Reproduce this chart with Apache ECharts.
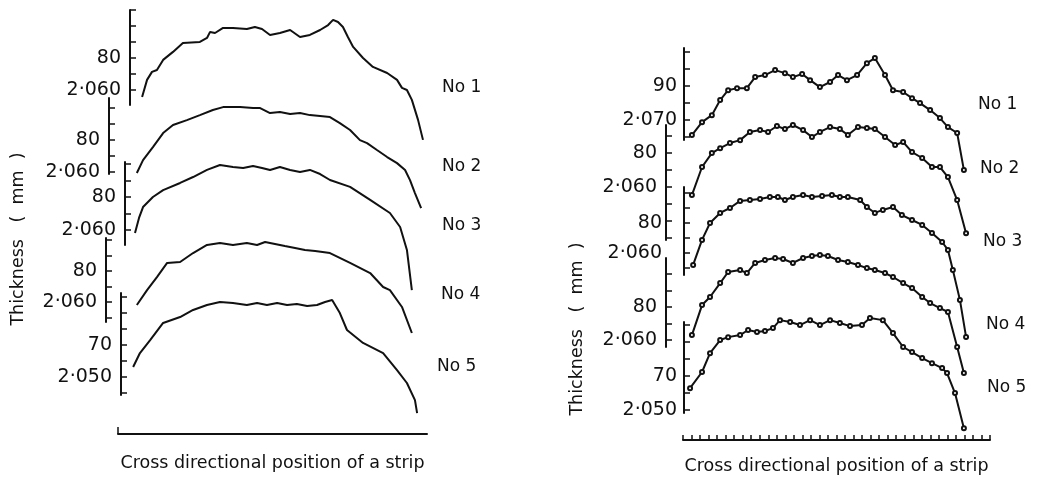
<!DOCTYPE html>
<html>
<head>
<meta charset="utf-8">
<title>Thickness profiles across a strip</title>
<script src="https://cdn.jsdelivr.net/npm/echarts@6/dist/echarts.min.js"></script>
<style>
  html, body { margin: 0; padding: 0; background: #fff; }
  #chart { width: 1037px; height: 479px; }
</style>
</head>
<body>
<div id="chart"></div>
<script>
// [position across strip (% of width), thickness (mm)]
// left panel: measured traces
const leftNo1 = [[7.8, 2.0556], [9.4, 2.0663], [11.0, 2.0713], [12.6, 2.0725], [14.6, 2.0788], [17.8, 2.0838],
  [21.0, 2.0894], [26.5, 2.0900], [28.8, 2.0925], [29.8, 2.0963], [31.4, 2.0956], [34.0, 2.0988], [37.2, 2.0988],
  [41.7, 2.0981], [44.3, 2.0994], [46.6, 2.0981], [49.2, 2.0944], [52.4, 2.0956], [55.7, 2.0975], [58.9, 2.0931],
  [62.1, 2.0944], [65.4, 2.0975], [68.0, 2.1006], [69.6, 2.1038], [71.2, 2.1025], [72.8, 2.0994], [74.4, 2.0931],
  [76.1, 2.0869], [79.3, 2.0800], [82.5, 2.0744], [87.1, 2.0706], [90.3, 2.0663], [91.9, 2.0613], [93.5, 2.0600],
  [95.1, 2.0538], [97.1, 2.0413], [98.7, 2.0288]];
const leftNo2 = [[6.1, 2.0594], [8.1, 2.0675], [11.3, 2.0756], [14.6, 2.0844], [17.8, 2.0894], [22.3, 2.0925],
  [26.5, 2.0956], [30.7, 2.0988], [34.0, 2.1006], [39.5, 2.1006], [43.7, 2.1000], [46.0, 2.1000], [49.2, 2.0969],
  [52.4, 2.0975], [55.7, 2.0963], [58.9, 2.0969], [62.1, 2.0956], [65.4, 2.0950], [68.6, 2.0944], [71.8, 2.0906],
  [75.1, 2.0863], [78.3, 2.0800], [80.6, 2.0781], [83.8, 2.0738], [87.1, 2.0694], [90.3, 2.0656], [92.9, 2.0613],
  [94.5, 2.0550], [96.1, 2.0469], [98.1, 2.0375]];
const leftNo3 = [[5.5, 2.0582], [6.8, 2.0673], [8.1, 2.0739], [11.3, 2.0800], [14.6, 2.0842], [20.1, 2.0885],
  [24.3, 2.0921], [28.8, 2.0964], [33.0, 2.0994], [37.2, 2.0982], [40.5, 2.0976], [43.7, 2.0988], [46.6, 2.0976],
  [49.2, 2.0964], [52.4, 2.0982], [55.7, 2.0964], [58.9, 2.0952], [62.1, 2.0964], [65.4, 2.0939], [68.6, 2.0903],
  [75.1, 2.0861], [81.6, 2.0782], [88.0, 2.0703], [91.3, 2.0618], [93.5, 2.0479], [95.1, 2.0236]];
const leftNo4 = [[6.1, 2.0581], [9.4, 2.0677], [12.6, 2.0761], [15.9, 2.0852], [20.1, 2.0858], [24.3, 2.0916],
  [28.8, 2.0968], [33.0, 2.0981], [37.2, 2.0968], [41.7, 2.0981], [45.0, 2.0968], [47.6, 2.0987], [50.8, 2.0974],
  [54.0, 2.0961], [57.3, 2.0948], [60.5, 2.0935], [63.8, 2.0929], [68.6, 2.0916], [75.1, 2.0852], [81.6, 2.0787],
  [85.8, 2.0697], [88.0, 2.0677], [91.9, 2.0568], [95.1, 2.0400]];
const leftNo5 = [[4.9, 2.0563], [7.1, 2.0650], [10.4, 2.0731], [14.6, 2.0838], [20.1, 2.0875], [24.3, 2.0919],
  [28.8, 2.0950], [33.0, 2.0969], [37.2, 2.0963], [41.7, 2.0950], [45.0, 2.0963], [48.2, 2.0950], [51.5, 2.0963],
  [54.7, 2.0950], [57.9, 2.0956], [61.2, 2.0944], [64.4, 2.0950], [67.0, 2.0969], [69.3, 2.0981], [71.8, 2.0900],
  [74.1, 2.0794], [79.3, 2.0713], [85.8, 2.0650], [90.3, 2.0544], [93.5, 2.0463], [96.1, 2.0356], [96.8, 2.0275]];

// right panel: point measurements
const rightNo1 = [[2.9, 2.0612], [6.2, 2.0688], [9.4, 2.0729], [12.1, 2.0818], [14.7, 2.0876], [17.6, 2.0888],
  [20.8, 2.0888], [23.5, 2.0953], [26.7, 2.0965], [30.0, 2.0994], [33.2, 2.0976], [35.8, 2.0953], [38.8, 2.0971],
  [41.4, 2.0935], [44.6, 2.0894], [47.9, 2.0924], [50.5, 2.0965], [53.4, 2.0935], [56.7, 2.0965], [59.9, 2.1035],
  [62.5, 2.1065], [65.8, 2.0965], [68.4, 2.0876], [71.7, 2.0865], [74.6, 2.0829], [77.2, 2.0800], [80.5, 2.0759],
  [83.7, 2.0712], [86.3, 2.0659], [89.3, 2.0624], [91.5, 2.0406]];
const rightNo2 = [[2.9, 2.0553], [6.2, 2.0718], [9.4, 2.0800], [12.1, 2.0829], [15.3, 2.0859], [18.6, 2.0876],
  [21.8, 2.0924], [25.1, 2.0935], [27.7, 2.0924], [30.6, 2.0959], [33.2, 2.0941], [35.8, 2.0965], [39.1, 2.0935],
  [42.0, 2.0894], [44.6, 2.0924], [47.9, 2.0953], [51.1, 2.0941], [53.7, 2.0906], [57.0, 2.0953], [59.9, 2.0947],
  [62.5, 2.0941], [65.8, 2.0894], [69.1, 2.0847], [71.7, 2.0865], [74.6, 2.0806], [77.9, 2.0771], [81.1, 2.0718],
  [83.7, 2.0718], [86.3, 2.0659], [89.3, 2.0524], [92.2, 2.0329]];
const rightNo3 = [[3.3, 2.0520], [6.2, 2.0687], [8.8, 2.0800], [12.1, 2.0867], [15.3, 2.0900], [18.6, 2.0947],
  [21.8, 2.0953], [25.1, 2.0960], [28.3, 2.0973], [30.9, 2.0973], [33.2, 2.0953], [35.8, 2.0973], [39.1, 2.0987],
  [42.0, 2.0973], [45.3, 2.0980], [48.5, 2.0987], [51.1, 2.0973], [53.7, 2.0973], [57.7, 2.0953], [59.9, 2.0907],
  [62.5, 2.0867], [65.1, 2.0887], [68.4, 2.0907], [71.3, 2.0853], [74.6, 2.0820], [77.9, 2.0787], [81.1, 2.0733],
  [84.4, 2.0673], [86.3, 2.0620], [87.9, 2.0487], [90.2, 2.0287], [92.2, 2.0040]];
const rightNo4 = [[2.9, 2.0630], [6.2, 2.0812], [8.8, 2.0861], [12.1, 2.0945], [14.7, 2.1012], [18.6, 2.1024],
  [20.8, 2.1006], [23.5, 2.1067], [26.7, 2.1085], [30.0, 2.1097], [32.6, 2.1091], [35.8, 2.1067], [39.1, 2.1097],
  [42.0, 2.1109], [44.6, 2.1115], [47.2, 2.1109], [50.5, 2.1085], [53.7, 2.1073], [57.0, 2.1055], [59.9, 2.1036],
  [62.5, 2.1024], [65.8, 2.1006], [68.4, 2.0982], [71.7, 2.0945], [74.6, 2.0915], [77.9, 2.0861], [80.5, 2.0824],
  [83.7, 2.0794], [86.3, 2.0770], [89.3, 2.0558], [91.5, 2.0400]];
const rightNo5 = [[2.3, 2.0629], [6.2, 2.0724], [8.8, 2.0835], [12.1, 2.0912], [14.7, 2.0929], [18.6, 2.0941],
  [21.2, 2.0971], [24.1, 2.0959], [26.7, 2.0965], [29.3, 2.0982], [31.6, 2.1029], [34.9, 2.1018], [38.1, 2.1000],
  [41.4, 2.1029], [44.6, 2.1000], [47.9, 2.1029], [51.1, 2.1012], [54.4, 2.0994], [58.3, 2.1000], [60.9, 2.1041],
  [65.1, 2.1029], [68.4, 2.0953], [71.7, 2.0871], [74.6, 2.0841], [77.9, 2.0806], [81.1, 2.0776], [84.4, 2.0747],
  [86.0, 2.0718], [88.6, 2.0600], [91.5, 2.0394]];

// labelled ticks on each short axis (lower one printed in full)
const leftLabelTicks = [[2.06, 2.08], [2.06, 2.08], [2.06, 2.08], [2.06, 2.08], [2.05, 2.07]];
const rightLabelTicks = [[2.07, 2.09], [2.06, 2.08], [2.06, 2.08], [2.06, 2.08], [2.05, 2.07]];

const curveNames = ["No 1", "No 2", "No 3", "No 4", "No 5"];
const xTitle = "Cross directional position of a strip";
const yTitle = "Thickness   (  mm  )";

// layout of the stacked axis segments (pixels) and their ranges
const leftAxes = [
  { x: 130, top: 10, bottom: 105, min: 2.0506, max: 2.1100, margin: 9 },
  { x: 109, top: 98, bottom: 174, min: 2.0588, max: 2.1063, margin: 9 },
  { x: 125, top: 162, bottom: 245, min: 2.0509, max: 2.1012, margin: 9 },
  { x: 106, top: 238, bottom: 322, min: 2.0471, max: 2.1013, margin: 9 },
  { x: 121, top: 293, bottom: 395, min: 2.0388, max: 2.1025, margin: 9 },
];
const rightAxes = [
  { x: 684, top: 48, bottom: 140, min: 2.0583, max: 2.1124, margin: 7 },
  { x: 666, top: 125, bottom: 240, min: 2.0289, max: 2.0965, margin: 9 },
  { x: 684, top: 187, bottom: 275, min: 2.0453, max: 2.1040, margin: 22 },
  { x: 666, top: 258, bottom: 347, min: 2.0558, max: 2.1097, margin: 9 },
  { x: 684, top: 322, bottom: 413, min: 2.0483, max: 2.1018, margin: 7 },
];
const leftNamePos = [[442, 88], [442, 167], [442, 226], [441, 295], [437, 367]];
const rightNamePos = [[978, 105], [980, 169], [983, 242], [986, 325], [987, 388]];

const ink = "#111";
const font = "DejaVu Sans";

function tickValues(min, max) {
  const out = [];
  for (let t = Math.ceil(min * 100 - 1e-6); t <= Math.floor(max * 100 + 1e-6); t++) {
    out.push(t / 100);
  }
  return out;
}

function tickText(v, lower) {
  const s = v.toFixed(3);
  return Math.abs(v - lower) < 1e-6 ? s.replace(".", "\u00b7") : s.slice(3, 5);
}

const grid = [];
const xAxis = [];
const yAxis = [];
const series = [];
const graphic = [];

function addPanel(panel) {
  panel.axes.forEach((a, i) => {
    const gi = grid.length;
    const labels = panel.labels[i];
    grid.push({ left: panel.left, top: a.top, width: panel.width, height: a.bottom - a.top });
    xAxis.push({ gridIndex: gi, type: "value", min: 0, max: 100, show: false });
    yAxis.push({
      gridIndex: gi,
      type: "value",
      min: a.min,
      max: a.max,
      offset: panel.left - a.x,
      splitLine: { show: false },
      axisLine: { show: true, onZero: false, lineStyle: { color: ink, width: 2 } },
      axisTick: {
        show: true,
        inside: true,
        length: 6,
        customValues: tickValues(a.min, a.max),
        lineStyle: { color: ink, width: 1.5 },
      },
      axisLabel: {
        customValues: labels,
        formatter: (v) => tickText(v, labels[0]),
        margin: a.margin,
        color: ink,
        fontSize: 19,
        fontFamily: font,
      },
    });
    series.push({
      name: panel.side + " " + curveNames[i],
      type: "line",
      xAxisIndex: gi,
      yAxisIndex: gi,
      data: panel.data[i],
      clip: false,
      symbol: panel.marker ? "emptyCircle" : "none",
      symbolSize: 4,
      showSymbol: panel.marker,
      itemStyle: { color: ink, borderWidth: 1.2 },
      lineStyle: { color: ink, width: 2 },
    });
    graphic.push({
      type: "text",
      x: panel.namePos[i][0],
      y: panel.namePos[i][1],
      style: { text: curveNames[i], fill: ink, fontSize: 17, fontFamily: font, verticalAlign: "middle" },
    });
  });

  // bottom axis of the panel
  const gi = grid.length;
  grid.push({ left: panel.left, top: panel.baseY - 50, width: panel.width, height: 50 });
  xAxis.push({
    gridIndex: gi,
    type: "value",
    min: 0,
    max: panel.baseTicks,
    interval: 1,
    name: xTitle,
    nameLocation: "middle",
    nameGap: panel.nameGap,
    nameTextStyle: { color: ink, fontSize: 17.5, fontFamily: font },
    splitLine: { show: false },
    axisLabel: { show: false },
    axisLine: { show: true, onZero: false, lineStyle: { color: ink, width: 2 } },
    axisTick: {
      show: true,
      inside: true,
      length: panel.baseTickLen,
      customValues: panel.baseTicks > 1 ? undefined : [0],
      lineStyle: { color: ink, width: 1.5 },
    },
  });
  yAxis.push({ gridIndex: gi, type: "value", min: 0, max: 1, show: false });

  graphic.push({
    type: "text",
    x: panel.yTitleX,
    y: panel.yTitleY,
    rotation: Math.PI / 2,
    style: { text: yTitle, fill: ink, fontSize: 17.5, fontFamily: font, align: "center", verticalAlign: "middle" },
  });
}

addPanel({
  side: "left", left: 118, width: 309, axes: leftAxes, labels: leftLabelTicks,
  data: [leftNo1, leftNo2, leftNo3, leftNo4, leftNo5], marker: false, namePos: leftNamePos,
  baseY: 434, baseTicks: 1, baseTickLen: 7, nameGap: 20, yTitleX: 18, yTitleY: 239,
});
addPanel({
  side: "right", left: 683, width: 307, axes: rightAxes, labels: rightLabelTicks,
  data: [rightNo1, rightNo2, rightNo3, rightNo4, rightNo5], marker: true, namePos: rightNamePos,
  baseY: 440, baseTicks: 36, baseTickLen: 5, nameGap: 17, yTitleX: 577, yTitleY: 329,
});

const chart = echarts.init(document.getElementById("chart"));
chart.setOption({
  animation: false,
  backgroundColor: "#fff",
  grid,
  xAxis,
  yAxis,
  series,
  graphic,
});
</script>
</body>
</html>
